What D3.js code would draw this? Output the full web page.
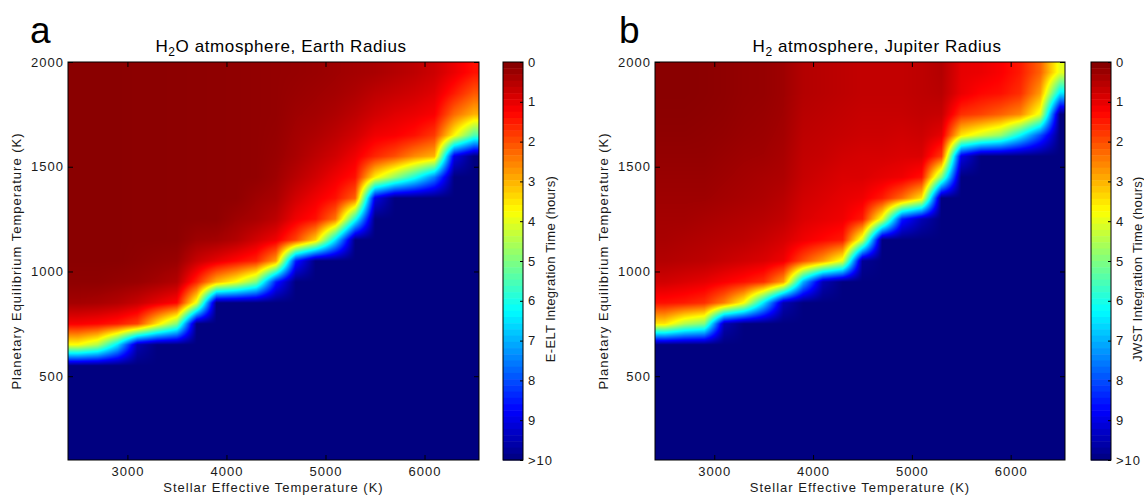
<!DOCTYPE html>
<html lang="en">
<head>
<meta charset="UTF-8">
<title>Integration time maps</title>
<script src="https://d3js.org/d3.v7.min.js"></script>
<style>
  body { margin: 0; background: #fff; }
  svg { display: block; font-family: "Liberation Sans", Arial, sans-serif; }
  .tick text, .lbl { fill: #1a1a1a; font-size: 13px; letter-spacing: 1px; }
  .tick line { stroke: #000; }
</style>
</head>
<body>
<svg width="1144" height="498"></svg>
<script>
// grid centres (K)
const stellarTemps = [2500, 2700, 2900, 3100, 3300, 3500, 3700, 3900, 4100, 4300, 4500,
                      4700, 4900, 5100, 5300, 5500, 5700, 5900, 6100, 6300, 6500];
const planetTemps = [1950, 1850, 1750, 1650, 1550, 1450, 1350, 1250, 1150, 1050,
                     950, 850, 750, 650, 550, 450, 350, 250, 150];

// integration time (hours, 10 = ">10"), one row per planet temperature
const h2oEarthHours = [
  [.1,.1,.1,.12,.12,.13,.14,.15,.16,.18,.2,.22,.25,.3,.35,.4,.5,.6,.75,1.05,1.4],
  [.1,.1,.1,.12,.12,.13,.14,.15,.16,.18,.2,.25,.3,.35,.45,.6,.7,.8,.95,1.5,2.1],
  [.1,.1,.1,.12,.12,.13,.14,.15,.16,.18,.2,.3,.35,.45,.6,.8,.95,1.05,1.2,2.3,3.0],
  [.1,.1,.1,.12,.12,.13,.14,.15,.16,.18,.22,.35,.45,.6,.8,1.1,1.2,1.4,1.8,3.7,5.5],
  [.1,.1,.1,.12,.12,.13,.14,.15,.16,.18,.25,.4,.6,.8,1.1,1.6,2.0,2.6,3.0,9,10],
  [.1,.1,.1,.12,.12,.13,.14,.15,.16,.18,.3,.55,.8,1.1,1.4,3.6,4.8,6,7.5,10,10],
  [.1,.1,.1,.12,.12,.13,.14,.15,.16,.3,.4,.8,1.1,1.4,2.2,9,10,10,10,10,10],
  [.1,.1,.1,.12,.12,.13,.14,.15,.3,.4,.6,1.1,1.4,2.4,6,10,10,10,10,10,10],
  [.1,.1,.1,.12,.12,.13,.3,.35,.5,.8,1.1,1.9,3.3,6.5,10,10,10,10,10,10,10],
  [.1,.1,.1,.15,.2,.25,.7,1.0,1.3,1.6,2.8,8.5,10,10,10,10,10,10,10,10,10],
  [.15,.15,.2,.25,.35,.5,1.6,3.0,3.8,5,8.5,10,10,10,10,10,10,10,10,10,10],
  [.35,.4,.5,.7,1.0,1.3,4.0,10,10,10,10,10,10,10,10,10,10,10,10,10,10],
  [1.2,1.3,1.5,1.9,3.5,5,10,10,10,10,10,10,10,10,10,10,10,10,10,10,10],
  [3.8,4.5,6.5,9.5,10,10,10,10,10,10,10,10,10,10,10,10,10,10,10,10,10],
  [10,10,10,10,10,10,10,10,10,10,10,10,10,10,10,10,10,10,10,10,10],
  [10,10,10,10,10,10,10,10,10,10,10,10,10,10,10,10,10,10,10,10,10],
  [10,10,10,10,10,10,10,10,10,10,10,10,10,10,10,10,10,10,10,10,10],
  [10,10,10,10,10,10,10,10,10,10,10,10,10,10,10,10,10,10,10,10,10],
  [10,10,10,10,10,10,10,10,10,10,10,10,10,10,10,10,10,10,10,10,10]
];

const h2JupiterHours = [
  [.1,.1,.12,.15,.2,.22,.3,.5,.55,.6,.65,.65,.65,.6,.5,1.0,1.05,1.2,1.5,2.2,4.0],
  [.1,.1,.12,.15,.2,.22,.3,.5,.55,.6,.65,.65,.65,.6,.55,1.05,1.3,1.4,1.7,2.8,6.5],
  [.12,.12,.14,.17,.22,.25,.32,.55,.6,.65,.7,.7,.7,.65,.7,1.7,1.9,2.2,2.6,4.0,10],
  [.15,.15,.17,.2,.25,.28,.35,.6,.65,.7,.75,.75,.8,.75,1.0,3.5,4.2,4.8,6.3,8,10],
  [.2,.2,.2,.25,.3,.32,.4,.65,.7,.8,.85,.85,.9,.9,1.8,9,10,10,10,10,10],
  [.25,.25,.25,.3,.35,.4,.45,.7,.8,.9,.9,1.0,1.1,1.4,5.0,10,10,10,10,10,10],
  [.3,.3,.3,.35,.4,.45,.55,.8,.9,1.0,1.1,1.5,2.3,3.5,10,10,10,10,10,10,10],
  [.35,.35,.4,.45,.5,.55,.65,.9,1.0,1.1,1.5,4.0,8.5,9.5,10,10,10,10,10,10,10],
  [.4,.45,.5,.55,.6,.7,.85,1.1,1.3,1.5,4.2,10,10,10,10,10,10,10,10,10,10],
  [.5,.55,.6,.7,.8,.9,1.1,2.0,2.8,4.0,9.8,10,10,10,10,10,10,10,10,10,10],
  [.8,.9,1.0,1.2,1.4,1.7,2.8,7,9.5,10,10,10,10,10,10,10,10,10,10,10,10],
  [1.4,1.5,1.7,2.5,3.8,6.5,9.5,10,10,10,10,10,10,10,10,10,10,10,10,10,10],
  [3.5,4.5,5.0,9.5,10,10,10,10,10,10,10,10,10,10,10,10,10,10,10,10,10],
  [10,10,10,10,10,10,10,10,10,10,10,10,10,10,10,10,10,10,10,10,10],
  [10,10,10,10,10,10,10,10,10,10,10,10,10,10,10,10,10,10,10,10,10],
  [10,10,10,10,10,10,10,10,10,10,10,10,10,10,10,10,10,10,10,10,10],
  [10,10,10,10,10,10,10,10,10,10,10,10,10,10,10,10,10,10,10,10,10],
  [10,10,10,10,10,10,10,10,10,10,10,10,10,10,10,10,10,10,10,10,10],
  [10,10,10,10,10,10,10,10,10,10,10,10,10,10,10,10,10,10,10,10,10]
];

const xTicks = [3000, 4000, 5000, 6000];
const yTicks = [500, 1000, 1500, 2000];
const cbarTicks = [0, 1, 2, 3, 4, 5, 6, 7, 8, 9, 10];
const cbarLabels = ["0", "1", "2", "3", "4", "5", "6", "7", "8", "9", ">10"];

const svg = d3.select("svg");
const plotTop = 62, plotBottom = 460, h = plotBottom - plotTop;
const fmt = d3.format("d");

// reversed jet: 0 h dark red, >10 h dark blue
const jet = d3.scaleLinear()
    .domain([0, 1.25, 3.75, 6.25, 8.75, 10])
    .range(["#800000", "#ff0000", "#ffff00", "#00ffff", "#0000ff", "#000080"])
    .clamp(true);
const lut = d3.range(1001).map(i => d3.rgb(jet(i / 100)));

const panels = [
  { letter: "a", title: ["H", "2", "O atmosphere, Earth Radius"], cbarLabel: "E-ELT Integration Time (hours)",
    hours: h2oEarthHours, left: 68, right: 479, cbarX: 503, titleX: 281, yLabelX: 21, cbarLabelX: 555, letterX: 30 },
  { letter: "b", title: ["H", "2", " atmosphere, Jupiter Radius"], cbarLabel: "JWST Integration Time (hours)",
    hours: h2JupiterHours, left: 655, right: 1065, cbarX: 1091, titleX: 877, yLabelX: 608, cbarLabelX: 1142, letterX: 619 }
];

function heatImage(hours, x, y, w) {
  const nc = stellarTemps.length, nr = planetTemps.length;
  const col = d3.scaleLinear().domain([stellarTemps[0], stellarTemps[nc - 1]]).range([0, nc - 1]).clamp(true);
  const row = d3.scaleLinear().domain([planetTemps[0], planetTemps[nr - 1]]).range([0, nr - 1]).clamp(true);
  const W = Math.round(w), H = Math.round(h);
  const canvas = document.createElement("canvas");
  canvas.width = W; canvas.height = H;
  const ctx = canvas.getContext("2d");
  const img = ctx.createImageData(W, H);
  for (let py = 0; py < H; py++) {
    const r = row(y.invert(py + 0.5));
    const r0 = Math.min(Math.floor(r), nr - 2), fr = r - r0;
    for (let px = 0; px < W; px++) {
      const c = col(x.invert(px + 0.5));
      const c0 = Math.min(Math.floor(c), nc - 2), fc = c - c0;
      const v = (hours[r0][c0] * (1 - fc) + hours[r0][c0 + 1] * fc) * (1 - fr) +
                (hours[r0 + 1][c0] * (1 - fc) + hours[r0 + 1][c0 + 1] * fc) * fr;
      const k = lut[Math.round(Math.max(0, Math.min(10, v)) * 100)];
      const i = (py * W + px) * 4;
      img.data[i] = k.r; img.data[i + 1] = k.g; img.data[i + 2] = k.b; img.data[i + 3] = 255;
    }
  }
  ctx.putImageData(img, 0, 0);
  return canvas.toDataURL();
}

panels.forEach(p => {
  const w = p.right - p.left;
  const x = d3.scaleLinear().domain([2400, 6550]).range([0, w]);
  const y = d3.scaleLinear().domain([100, 2000]).range([h, 0]);
  const g = svg.append("g").attr("transform", `translate(${p.left},${plotTop})`);

  g.append("image")
      .attr("href", heatImage(p.hours, x, y, w))
      .attr("width", w).attr("height", h)
      .attr("preserveAspectRatio", "none");

  // inward ticks on all sides
  const ax = [
    g.append("g").attr("transform", `translate(0,${h})`)
      .call(d3.axisBottom(x).tickValues(xTicks).tickSize(-5).tickPadding(7).tickFormat(fmt)),
    g.append("g").call(d3.axisTop(x).tickValues(xTicks).tickSize(-5).tickFormat("")),
    g.append("g").call(d3.axisLeft(y).tickValues(yTicks).tickSize(-5).tickPadding(4).tickFormat(fmt)),
    g.append("g").attr("transform", `translate(${w},0)`)
      .call(d3.axisRight(y).tickValues(yTicks).tickSize(-5).tickFormat(""))
  ];
  ax.forEach(a => { a.attr("font-size", null).attr("font-family", null); a.select(".domain").remove(); });

  g.append("rect").attr("width", w).attr("height", h)
      .attr("fill", "none").attr("stroke", "#000").attr("stroke-width", 1);

  // colour bar
  const cy = d3.scaleLinear().domain([0, 10]).range([0, h]);
  const cb = svg.append("g").attr("transform", `translate(${p.cbarX},${plotTop})`);
  const steps = d3.range(64);
  cb.selectAll("rect.cell").data(steps).join("rect")
      .attr("class", "cell")
      .attr("x", 0).attr("width", 20)
      .attr("y", d => cy(d * 10 / 64))
      .attr("height", cy(10 / 64) + 0.5)
      .attr("fill", d => jet((d + 0.5) * 10 / 64));
  cb.append("rect").attr("width", 20).attr("height", h)
      .attr("fill", "none").attr("stroke", "#000");
  const ca = cb.append("g").attr("transform", "translate(20,0)")
      .call(d3.axisRight(cy).tickValues(cbarTicks).tickSize(-3).tickPadding(5)
        .tickFormat((d, i) => cbarLabels[i]));
  ca.attr("font-size", null).attr("font-family", null);
  ca.select(".domain").remove();

  // texts
  svg.append("text").attr("x", p.letterX).attr("y", 43)
      .attr("font-size", 37).attr("fill", "#000").text(p.letter);

  const t = svg.append("text").attr("x", p.titleX).attr("y", 52)
      .attr("text-anchor", "middle").attr("font-size", 17)
      .style("letter-spacing", "0.6px").attr("fill", "#000");
  t.append("tspan").text(p.title[0]);
  t.append("tspan").attr("font-size", 12).attr("dy", 4).text(p.title[1]);
  t.append("tspan").attr("dy", -4).text(p.title[2]);

  svg.append("text").attr("class", "lbl")
      .attr("x", p.left + w / 2).attr("y", 492).attr("text-anchor", "middle")
      .text("Stellar Effective Temperature (K)");

  svg.append("text").attr("class", "lbl")
      .attr("transform", `translate(${p.yLabelX},${plotTop + h / 2}) rotate(-90)`)
      .attr("text-anchor", "middle")
      .text("Planetary Equilibrium Temperature (K)");

  svg.append("text").attr("class", "lbl")
      .attr("transform", `translate(${p.cbarLabelX},269) rotate(-90)`)
      .attr("text-anchor", "middle").style("letter-spacing", "0.3px")
      .text(p.cbarLabel);
});
</script>
</body>
</html>
